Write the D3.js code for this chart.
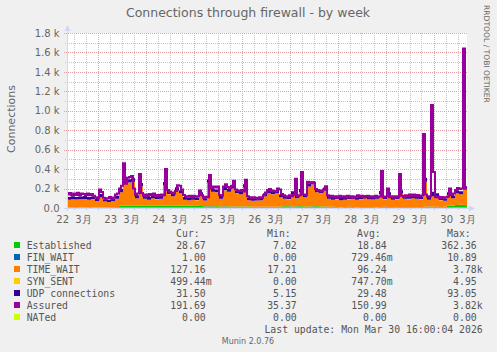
<!DOCTYPE html>
<html>
<head>
<meta charset="utf-8">
<script src="https://cdn.jsdelivr.net/npm/d3@7"></script>
<style>
  html, body { margin: 0; padding: 0; background: #f0f0f0; }
  svg { display: block; }
  text { font-family: "DejaVu Sans", sans-serif; fill: #666; }
  .mono { font-family: "DejaVu Sans Mono", monospace; font-size: 9.8px; fill: #555; white-space: pre; }
</style>
</head>
<body>
<div id="chart"></div>
<script>
// stacked series: one sample every 2 hours, Mar 22 08:45 -> Mar 30 16:45
// assured line: one sample every hour
const start = new Date(2026, 2, 22, 8, 45);
const end = new Date(2026, 2, 30, 16, 45);
const times = d3.range(100).map(i => d3.timeHour.offset(start, 2 * i));
const hours = d3.range(200).map(i => d3.timeHour.offset(start, i));

const established = [8,8,9,8,8,9,8,8,7,8,8,9,10,
  22,24,25,24,23,25,24,22,23,24,25,24,23,22,24,25,24,23,22,21,20,
  16,15,16,17,15,16,15,14,16,15,14,15,
  12,11,12,13,12,12,13,
  16,17,16,15,16,17,16,15,16,17,16,15,14,13,
  10,9,10,11,10,9,10,10,11,10,9,10,11,10,10,9,10,11,10,10,9,10,
  12,14,12,11,10,12,
  22,26,30,32,29];
const finWait = [1,0,1,1,0,1,0,1,1,0, 1,1,0,1,2,1,1,0,1,0, 1,0,1,1,0,2,1,0,1,0, 0,1,1,0,1,2,1,0,1,1,
  0,1,0,1,1,0,0,1,0,1, 1,0,1,0,0,1,1,2,1,0, 1,2,1,0,1,0,0,1,0,1, 1,0,0,1,1,0,1,0,0,1,
  1,0,1,0,0,1,0,1,1,0, 2,1,3,1,0,1,0,1,1,1];
const timeWait = [77,82,76,80,84,76,80,62,103,57,52,61,85,138,256,235,246,77,195,
  71,63,77,66,70,206,117,98,156,125,61,57,63,59,110,59,240,149,143,80,164,150,186,134,125,196,
  65,63,64,68,107,138,128,137,94,78,74,125,79,143,94,205,224,143,134,165,
  81,72,80,71,75,79,85,76,80,90,79,75,86,130,79,120,75,81,140,
  84,80,90,86,80,258,66,108,99,70,63,108,74,120,108,161];
const synSent = [0,1,1,0,1,0,1,1,0,1, 1,0,1,1,2,1,0,1,2,1, 0,1,1,0,1,2,0,1,1,0, 1,0,1,1,0,2,1,1,0,1,
  1,0,1,1,0,1,0,0,1,1, 0,1,0,1,1,2,1,3,1,0, 1,2,1,1,0,1,0,1,0,0, 1,1,0,1,0,1,1,0,1,1,
  0,1,2,0,1,3,1,0,1,0, 4,1,5,1,0,1,0,1,1,0];
const udp = [28,30,27,29,31,28,30,26,32,25, 24,27,29,34,38,35,36,30,33,29, 27,30,28,29,36,31,30,33,31,27,
  26,28,27,32,25,35,31,30,28,33, 31,34,30,29,34,26,25,24,26,30, 32,31,33,29,27,26,31,27,34,29,
  33,32,30,29,31,28,26,27,25,26, 27,28,26,27,29,27,26,28,33,27, 30,26,27,32,28,27,29,28,27,40,
  26,45,33,25,24,30,28,31,30,32];
const nated = [0,0,0,0,0,0,0,0,0,0, 0,0,0,0,0,0,0,0,0,0, 0,0,0,0,0,0,0,0,0,0, 0,0,0,0,0,0,0,0,0,0,
  0,0,0,0,0,0,0,0,0,0, 0,0,0,0,0,0,0,0,0,0, 0,0,0,0,0,0,0,0,0,0, 0,0,0,0,0,0,0,0,0,0,
  0,0,0,0,0,0,0,0,0,0, 0,0,0,0,0,0,0,0,0,0];
const assured = [
  140,155,130,150,135,158,128,150,145,132,
  150,130,145,125,110,100,190,165,105,95,
  100,112,95,108,140,150,200,230,460,250,
  310,320,330,200,135,150,350,155,125,140,
  120,145,130,150,125,135,120,140,130,400,
  185,170,160,150,175,235,230,190,135,120,
  115,125,110,125,115,120,180,130,105,115,
  110,340,200,220,210,220,135,125,220,245,
  215,200,230,280,190,180,175,185,170,290,
  120,110,100,110,105,95,110,105,130,160,
  185,195,180,170,175,200,190,145,130,120,
  115,130,120,135,300,120,130,370,140,135,
  270,265,255,260,195,185,180,170,190,225,
  130,115,125,110,120,105,125,110,120,108,
  125,110,120,105,118,130,112,125,108,120,
  125,110,120,108,125,112,118,380,110,118,
  200,110,122,105,120,110,350,125,112,130,
  120,140,125,140,118,135,120,128,760,140,
  115,120,1060,370,110,118,100,112,98,110,
  115,200,135,150,185,205,195,200,1640,200];

const yTicks = [0, 200, 400, 600, 800, 1000, 1200, 1400, 1600, 1800];
const yLabels = ['0.0', '0.2 k', '0.4 k', '0.6 k', '0.8 k', '1.0 k', '1.2 k', '1.4 k', '1.6 k', '1.8 k'];
const dayLabels = ['22  3月', '23  3月', '24  3月', '25  3月', '26  3月', '27  3月', '28  3月', '29  3月', '30  3月'];

const seriesNames = ['Established', 'FIN_WAIT', 'TIME_WAIT', 'SYN_SENT', 'UDP connections', 'Assured', 'NATed'];
const seriesColors = ['#00cc00', '#0066b3', '#ff8000', '#ffcc00', '#330099', '#990099', '#ccff00'];
const curVals = ['28.67', '1.00', '127.16', '499.44m', '31.50', '191.69', '0.00'];
const minVals = ['7.02', '0.00', '17.21', '0.00', '5.15', '35.37', '0.00'];
const avgVals = ['18.84', '729.46m', '96.24', '747.70m', '29.48', '150.99', '0.00'];
const maxVals = ['362.36', '10.89', '3.78k', '4.95', '93.05', '3.82k', '0.00'];

const width = 497, height = 352;
const plot = { left: 67, right: 467, top: 33, bottom: 208 };

const svg = d3.select('#chart').append('svg').attr('width', width).attr('height', height);
svg.append('rect').attr('width', width).attr('height', height).attr('fill', '#f0f0f0');
svg.append('rect').attr('x', plot.left).attr('y', plot.top)
  .attr('width', plot.right - plot.left).attr('height', plot.bottom - plot.top).attr('fill', '#fff');

const x = d3.scaleTime().domain([start, end]).range([plot.left, plot.right]);
const y = d3.scaleLinear().domain([0, 1800]).range([plot.bottom, plot.top]);

// grid
const minorCol = '#c4c4c4', majorCol = '#e6a0a0';
const grid = svg.append('g').attr('shape-rendering', 'crispEdges');
d3.range(100, 1800, 200).forEach(v => {
  grid.append('line').attr('x1', plot.left - 2).attr('x2', plot.right)
    .attr('y1', Math.round(y(v)) + 0.5).attr('y2', Math.round(y(v)) + 0.5)
    .attr('stroke', minorCol).attr('stroke-dasharray', '1,1');
});
yTicks.slice(1).forEach(v => {
  grid.append('line').attr('x1', plot.left - 3).attr('x2', plot.right)
    .attr('y1', Math.round(y(v)) + 0.5).attr('y2', Math.round(y(v)) + 0.5)
    .attr('stroke', majorCol).attr('stroke-dasharray', '1,1');
});
d3.timeHour.every(6).range(start, end).forEach(t => {
  const midnight = t.getHours() === 0;
  const xp = Math.round(x(t)) + 0.5;
  grid.append('line').attr('x1', xp).attr('x2', xp)
    .attr('y1', plot.top).attr('y2', plot.bottom + (midnight ? 3 : 2))
    .attr('stroke', midnight ? majorCol : minorCol).attr('stroke-dasharray', '1,1');
});

// stacked areas
const stackKeys = ['established', 'finWait', 'timeWait', 'synSent', 'udp'];
const cols = { established, finWait, timeWait, synSent, udp, nated };
const rows = times.map((t, i) => {
  const r = { t };
  Object.keys(cols).forEach(k => r[k] = cols[k][i]);
  return r;
});
rows.push(Object.assign({}, rows[rows.length - 1], { t: end })); // hold last sample to the edge

const assuredRows = hours.map((t, i) => ({ t, v: assured[i] }));
assuredRows.push({ t: end, v: assured[assured.length - 1] });

const stacked = d3.stack().keys(stackKeys)(rows);
const area = d3.area().curve(d3.curveStepAfter)
  .x(d => x(d.data.t)).y0(d => y(d[0])).y1(d => y(d[1]));

svg.append('clipPath').attr('id', 'clip').append('rect')
  .attr('x', plot.left).attr('y', plot.top - 2)
  .attr('width', plot.right - plot.left).attr('height', plot.bottom - plot.top + 2);

const marks = svg.append('g').attr('clip-path', 'url(#clip)');
marks.selectAll('path.area').data(stacked).join('path')
  .attr('class', 'area')
  .attr('fill', (d, i) => seriesColors[i])
  .attr('d', area);

marks.append('path').datum(assuredRows).attr('fill', 'none')
  .attr('stroke', seriesColors[5]).attr('stroke-width', 2)
  .attr('d', d3.line().curve(d3.curveStepAfter).x(d => x(d.t)).y(d => y(d.v)));
marks.append('path').datum(rows).attr('fill', 'none')
  .attr('stroke', seriesColors[6]).attr('stroke-width', 1)
  .attr('d', d3.line().curve(d3.curveStepAfter).x(d => x(d.t)).y(d => y(d.nated)));

// axes lines + arrows
const axisCol = '#cfd6f8';
svg.append('line').attr('x1', plot.left + 0.5).attr('x2', plot.left + 0.5)
  .attr('y1', plot.bottom + 3).attr('y2', plot.top - 5).attr('stroke', axisCol);
svg.append('path').attr('d', `M${plot.left - 2.5},${plot.top - 2}L${plot.left + 3.5},${plot.top - 2}L${plot.left + 0.5},${plot.top - 8}Z`)
  .attr('fill', axisCol);
svg.append('line').attr('x1', plot.left - 3).attr('x2', plot.right + 5)
  .attr('y1', plot.bottom + 0.5).attr('y2', plot.bottom + 0.5).attr('stroke', axisCol);
svg.append('path').attr('d', `M${plot.right + 2},${plot.bottom - 2.5}L${plot.right + 2},${plot.bottom + 3.5}L${plot.right + 8},${plot.bottom + 0.5}Z`)
  .attr('fill', axisCol);

// tick labels
const yAxis = svg.append('g').attr('transform', `translate(${plot.left},0)`)
  .call(d3.axisLeft(y).tickValues(yTicks).tickFormat((d, i) => yLabels[i]).tickSize(0).tickPadding(7.5));
yAxis.select('.domain').remove();
yAxis.selectAll('text').attr('font-size', 10).attr('font-family', '"DejaVu Sans", sans-serif').attr('fill', '#666');

const noons = d3.timeDay.range(new Date(2026, 2, 22), new Date(2026, 2, 31)).map(d => d3.timeHour.offset(d, 12));
const xAxis = svg.append('g').attr('transform', `translate(0,${plot.bottom})`)
  .call(d3.axisBottom(x).tickValues(noons).tickFormat((d, i) => dayLabels[i]).tickSize(0).tickPadding(7.6));
xAxis.select('.domain').remove();
xAxis.selectAll('text').attr('font-size', 10).attr('font-family', '"DejaVu Sans", "Noto Sans CJK JP", sans-serif')
  .attr('fill', '#666').style('white-space', 'pre');

// titles
svg.append('text').attr('x', 248).attr('y', 16.7).attr('text-anchor', 'middle')
  .attr('font-size', 12.5).text('Connections through firewall - by week');
svg.append('text').attr('transform', 'translate(14.5,119) rotate(-90)').attr('text-anchor', 'middle')
  .attr('font-size', 11).text('Connections');
svg.append('text').attr('transform', 'translate(484,5) rotate(90)').attr('text-anchor', 'start')
  .attr('font-size', 7.6).attr('fill', '#c4c4c4').text('RRDTOOL / TOBI OETIKER');

// legend
const colX = [205.7, 296.7, 386.7, 476.7];
const heads = ['Cur:', 'Min:', 'Avg:', 'Max:'];
const leg = svg.append('g');
heads.forEach((h, j) => {
  leg.append('text').attr('class', 'mono').attr('x', colX[j] - 6).attr('y', 236.5)
    .attr('text-anchor', 'end').text(h);
});
const valueCell = (v, cx, yy) => {
  const m = v.match(/^([\d.]+)([mk]?)$/);
  leg.append('text').attr('class', 'mono').attr('x', cx).attr('y', yy).attr('text-anchor', 'end').text(m[1]);
  if (m[2]) leg.append('text').attr('class', 'mono').attr('x', cx).attr('y', yy).text(m[2]);
};
seriesNames.forEach((name, i) => {
  const yy = 248.5 + 12 * i;
  leg.append('rect').attr('x', 14).attr('y', yy - 6.5).attr('width', 6).attr('height', 6).attr('fill', seriesColors[i]);
  leg.append('text').attr('class', 'mono').attr('x', 26.7).attr('y', yy).text(name);
  [curVals, minVals, avgVals, maxVals].forEach((arr, j) => valueCell(arr[i], colX[j], yy));
});
leg.append('text').attr('class', 'mono').attr('x', 482.7).attr('y', 332.5).attr('text-anchor', 'end')
  .text('Last update: Mon Mar 30 16:00:04 2026');
svg.append('text').attr('x', 248).attr('y', 344).attr('text-anchor', 'middle')
  .attr('font-size', 8).attr('fill', '#bbb').text('Munin 2.0.76');
</script>
</body>
</html>
